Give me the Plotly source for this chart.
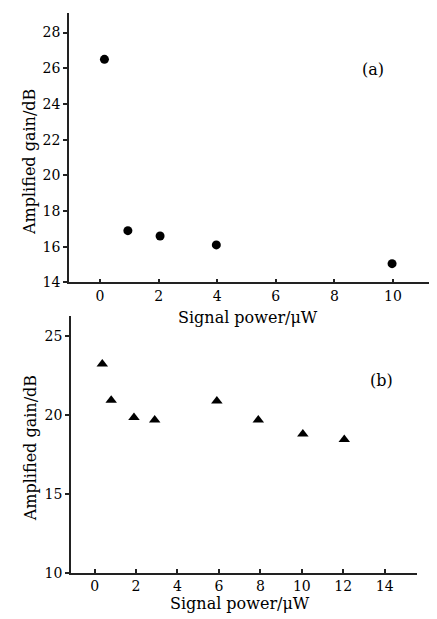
import plotly.graph_objects as go

# Panel (a)
power_a = [0.15, 0.95, 2.05, 3.97, 9.97]
gain_a = [26.5, 16.9, 16.6, 16.1, 15.05]
xticks_a = [0, 2, 4, 6, 8, 10]
yticks_a = [14, 16, 18, 20, 22, 24, 26, 28]

# Panel (b)
power_b = [0.37, 0.8, 1.9, 2.9, 5.9, 7.9, 10.05, 12.05]
gain_b = [23.25, 20.95, 19.85, 19.7, 20.9, 19.7, 18.8, 18.45]
xticks_b = [0, 2, 4, 6, 8, 10, 12, 14]
yticks_b = [10, 15, 20, 25]

W, H = 437, 619
FONT = "DejaVu Serif"

def px(x):
    return x / W

def py(y):
    return 1 - y / H

fig = go.Figure()
fig.add_trace(go.Scatter(x=power_a, y=gain_a, mode="markers",
                         marker=dict(symbol="circle", size=9, color="black"),
                         xaxis="x", yaxis="y", showlegend=False))
fig.add_trace(go.Scatter(x=power_b, y=gain_b, mode="markers",
                         marker=dict(symbol="triangle-up", size=10, color="black"),
                         xaxis="x2", yaxis="y2", showlegend=False))

axis_common = dict(showgrid=False, zeroline=False, showline=True, linecolor="#222",
                   linewidth=1.5, tickcolor="#222", ticklen=4, tickwidth=1.5,
                   tickfont=dict(family=FONT, size=14, color="black"))

fig.update_layout(
    width=W, height=H, margin=dict(l=0, r=0, t=0, b=0),
    paper_bgcolor="white", plot_bgcolor="white",
    xaxis=dict(domain=[px(61), px(428)], range=[-1.06, 11.47], tickvals=xticks_a,
               ticks="inside", anchor="y", **axis_common),
    yaxis=dict(domain=[py(278), py(5)], range=[14, 29.1], tickvals=yticks_a,
               ticks="outside", anchor="x", **axis_common),
    xaxis2=dict(domain=[px(63), px(409)], range=[-1.14, 15.56], tickvals=xticks_b,
                ticks="inside", anchor="y2", **axis_common),
    yaxis2=dict(domain=[py(572), py(312)], range=[10, 26.3], tickvals=yticks_b,
                ticks="outside", anchor="x2", **axis_common),
)

ann_font = dict(family=FONT, size=16, color="black")
annots = [
    dict(text="(a)", x=px(365), y=py(62)),
    dict(text="(b)", x=px(373), y=py(377)),
    dict(text="Signal power/μW", x=px(240), y=py(314)),
    dict(text="Signal power/μW", x=px(232), y=py(603)),
    dict(text="Amplified gain/dB", x=px(22), y=py(156), textangle=-90),
    dict(text="Amplified gain/dB", x=px(22), y=py(446), textangle=-90),
]
for a in annots:
    fig.add_annotation(xref="paper", yref="paper", showarrow=False,
                       xanchor="center", yanchor="middle", font=ann_font, **a)

fig.write_html("out.html")
